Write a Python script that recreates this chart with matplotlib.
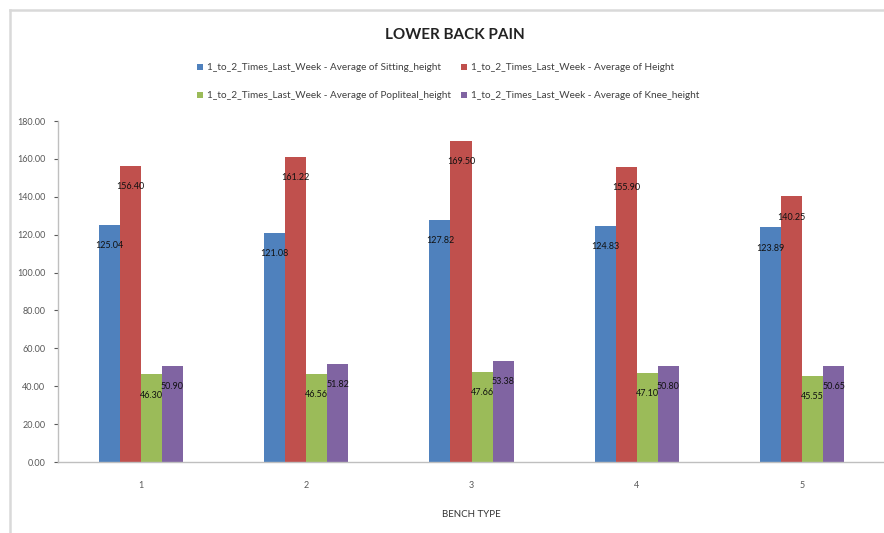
import matplotlib
matplotlib.use("Agg")
import matplotlib.pyplot as plt
import numpy as np
from matplotlib.lines import Line2D

categories = ["1", "2", "3", "4", "5"]
series_names = [
    "1_to_2_Times_Last_Week - Average of Sitting_height",
    "1_to_2_Times_Last_Week - Average of Height",
    "1_to_2_Times_Last_Week - Average of Popliteal_height",
    "1_to_2_Times_Last_Week - Average of Knee_height",
]
sitting = [125.04, 121.08, 127.82, 124.83, 123.89]
height = [156.40, 161.22, 169.50, 155.90, 140.25]
popliteal = [46.30, 46.56, 47.66, 47.10, 45.55]
knee = [50.90, 51.82, 53.38, 50.80, 50.65]
y_ticks = [0, 20, 40, 60, 80, 100, 120, 140, 160, 180]

colors = ["#4F81BD", "#C0504D", "#9BBB59", "#8064A2"]
series = [sitting, height, popliteal, knee]

plt.rcParams['font.family'] = ['Lato', 'DejaVu Sans']

fig = plt.figure(figsize=(8.84, 5.33), dpi=100)
W, H = 884, 533
ax = fig.add_axes([58 / W, 1 - 462 / H, (885 - 58) / W, (462 - 121) / H])
ax.patch.set_visible(False)

x = np.arange(len(categories))
bw = 0.127
handles = []
for i, (vals, c, name) in enumerate(zip(series, colors, series_names)):
    pos = x + (i - 1.5) * bw
    b = ax.bar(pos, vals, width=bw, color=c, label=name, zorder=2)
    handles.append(b)
    for p, v in zip(pos, vals):
        ax.annotate(f"{v:.2f}", (p, v), xytext=(0, -15), textcoords="offset points",
                    ha="center", va="center", fontsize=6.5, color="#111111", zorder=3)

ax.set_xlim(-0.5, len(categories) - 0.5)
ax.set_ylim(0, 180)
ax.set_yticks(y_ticks)
ax.set_yticklabels([f"{t:.2f}" for t in y_ticks])
ax.set_xticks(x)
ax.set_xticklabels(categories)
ax.tick_params(axis="both", labelsize=6.5, colors="#595959", length=3, width=0.8)
ax.tick_params(axis="x", length=0, pad=14)
ax.tick_params(axis="y", pad=6)
for s in ["top", "right"]:
    ax.spines[s].set_visible(False)
for s in ["left", "bottom"]:
    ax.spines[s].set_color("#BFBFBF")
    ax.spines[s].set_linewidth(1.0)
ax.set_xlabel("BENCH TYPE", fontsize=7, color="#333333", labelpad=14)

fig.text(455 / W, 1 - 35 / H, "LOWER BACK PAIN", ha="center", va="center",
         fontsize=11, fontweight="bold", color="#222222")

order = [0, 2, 1, 3]
leg = fig.legend(handles=[handles[k] for k in order],
                 labels=[series_names[k] for k in order], ncol=2,
                 loc="center", bbox_to_anchor=(448 / W, 1 - 82 / H),
                 frameon=False, fontsize=7.2, handlelength=0.6, handleheight=0.6,
                 handletextpad=0.4, columnspacing=1.0, labelspacing=1.9)
for t in leg.get_texts():
    t.set_color("#404040")

fig.add_artist(Line2D([10 / W, 10 / W], [0, 1 - 10 / H], transform=fig.transFigure,
                      color="#D9D9D9", linewidth=1.8))
fig.add_artist(Line2D([10 / W, 1.01], [1 - 10 / H, 1 - 10 / H], transform=fig.transFigure,
                      color="#D9D9D9", linewidth=1.8))

fig.savefig("out.png", dpi=100)
